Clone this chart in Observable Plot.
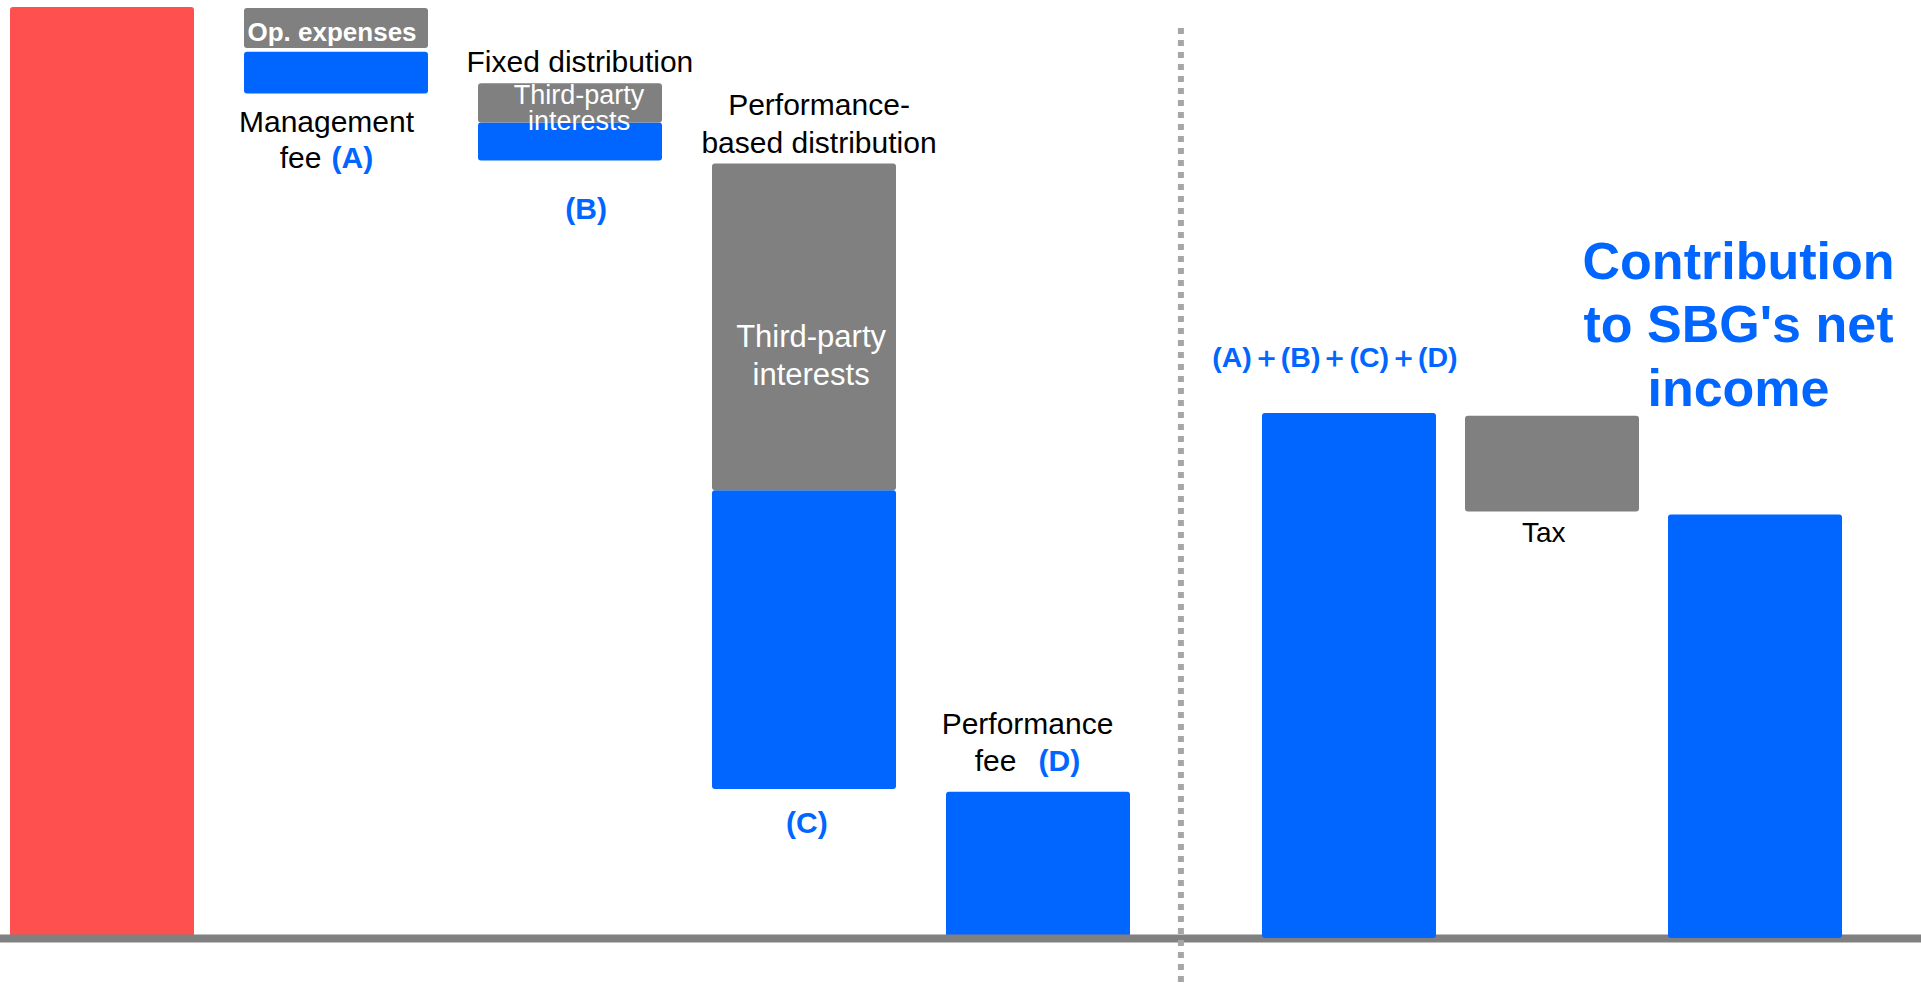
<!DOCTYPE html>
<html>
<head>
<meta charset="utf-8">
<script src="https://cdn.jsdelivr.net/npm/d3@7"></script>
<script src="https://cdn.jsdelivr.net/npm/@observablehq/plot@0.6"></script>
<style>
  html, body { margin: 0; padding: 0; background: #fff; overflow: hidden; }
  #chart { position: relative; width: 1921px; height: 983px; }
  #chart svg { position: absolute; top: 0; max-width: none; }
</style>
</head>
<body>
<div id="chart"></div>
<script>
// ---------------- data (red bar = 100) ----------------
const leftCategories = ["Start", "Management fee", "Fixed distribution", "Performance-based distribution", "Performance fee"];
const rightCategories = ["(A)+(B)+(C)+(D)", "Tax", "Contribution to SBG's net income"];

// bar segments: category, bottom value, top value, kind
const segCategory = [
  "Start",
  "Management fee", "Management fee",
  "Fixed distribution", "Fixed distribution",
  "Performance-based distribution", "Performance-based distribution",
  "Performance fee",
  "(A)+(B)+(C)+(D)", "Tax", "Contribution to SBG's net income"
];
const segBottom = [0, 90.7, 95.6, 83.5, 87.6, 16.0, 48.1, 0, 0, 45.8, 0];
const segTop    = [100, 95.2, 99.9, 87.6, 91.8, 48.1, 83.2, 15.7, 56.4, 56.1, 45.5];
const segKind   = ["start", "share", "cost", "share", "cost", "share", "cost", "share", "share", "cost", "share"];

const kinds = ["start", "share", "cost"];
const kindColors = ["#FF5050", "#0066FF", "#808080"];

// ---------------- build ----------------
const rows = segCategory.map((c, i) => ({category: c, y1: segBottom[i], y2: segTop[i], kind: segKind[i]}));
const leftRows = rows.filter(d => leftCategories.includes(d.category));
const rightRows = rows.filter(d => rightCategories.includes(d.category));

const FONT = "Liberation Sans, Arial, Helvetica, sans-serif";
const BLUE = "#0066FF";
const DIVIDER = "#a6a6a6";
const yScale = {domain: [0, 100], range: [938, 7], axis: null};
const colorScale = {domain: kinds, range: kindColors};

function label(cat, y, text, o) {
  return Plot.text([{cat, y}], {x: "cat", y: "y", text: () => text, fontFamily: FONT, lineAnchor: "middle", ...o});
}

const left = Plot.plot({
  width: 1921, height: 983,
  marginTop: 0, marginRight: 0, marginBottom: 0, marginLeft: 0,
  style: {background: "transparent", fontFamily: FONT, overflow: "visible"},
  x: {type: "band", domain: leftCategories, range: [-42.6, 1182.8], padding: 0.2145, axis: null},
  y: yScale,
  color: colorScale,
  marks: [
    Plot.barY(leftRows, {x: "category", y1: "y1", y2: "y2", fill: "kind", rx: 3}),
    Plot.ruleY([0], {stroke: "#808080", strokeWidth: 8}),
    // Management fee
    label("Management fee", segTop[2], "Op. expenses", {fill: "#fff", fontWeight: "bold", fontSize: 26, textAnchor: "start", dx: -89, dy: 24.7}),
    label("Management fee", segBottom[1], "Management", {fill: "#000", fontSize: 30, dx: -10, dy: 28.5}),
    label("Management fee", segBottom[1], "fee", {fill: "#000", fontSize: 30, textAnchor: "end", dx: -15, dy: 64.8}),
    label("Management fee", segBottom[1], "(A)", {fill: BLUE, fontWeight: "bold", fontSize: 30, textAnchor: "start", dx: -5, dy: 64.8}),
    // Fixed distribution
    label("Fixed distribution", segTop[4], "Fixed distribution", {fill: "#000", fontSize: 30, dx: 9.4, dy: -21.9}),
    label("Fixed distribution", segTop[4], "Third-party\ninterests", {fill: "#fff", fontSize: 27, lineHeight: 0.96, dx: 8.6, dy: 25.2}),
    label("Fixed distribution", segBottom[3], "(B)", {fill: BLUE, fontWeight: "bold", fontSize: 30, dx: 15.7, dy: 47.8}),
    // Performance-based distribution
    label("Performance-based distribution", segTop[6], "Performance-\nbased distribution", {fill: "#000", fontSize: 30, lineHeight: 1.267, dx: 14.5, dy: -42}),
    label("Performance-based distribution", segTop[6], "Third-party\ninterests", {fill: "#fff", fontSize: 31, lineHeight: 1.226, dx: 6.6, dy: 189.7}),
    label("Performance-based distribution", segBottom[5], "(C)", {fill: BLUE, fontWeight: "bold", fontSize: 30, dx: 2.4, dy: 34}),
    // Performance fee
    label("Performance fee", segTop[7], "Performance", {fill: "#000", fontSize: 30, dx: -11, dy: -68.4}),
    label("Performance fee", segTop[7], "fee", {fill: "#000", fontSize: 30, textAnchor: "end", dx: -22, dy: -31.4}),
    label("Performance fee", segTop[7], "(D)", {fill: BLUE, fontWeight: "bold", fontSize: 30, textAnchor: "start", dx: 0, dy: -31.4})
  ]
});

const right = Plot.plot({
  width: 753, height: 983,
  marginTop: 28, marginRight: 0, marginBottom: 0, marginLeft: 12,
  style: {background: "transparent", fontFamily: FONT, overflow: "visible"},
  x: {type: "band", domain: rightCategories, range: [64.5, 703.2], padding: 0.1424, axis: null},
  y: yScale,
  color: colorScale,
  marks: [
    // dotted divider between the two sections (left of the first right-hand bar)
    Plot.ruleX([rightCategories[0]], {x: d => d, dx: -168.6, stroke: DIVIDER, strokeWidth: 6, strokeDasharray: "6,6"}),
    Plot.barY(rightRows, {x: "category", y1: "y1", y2: "y2", fill: "kind", rx: 3}),
    label("(A)+(B)+(C)+(D)", segTop[8], "(A)\uFF0B(B)\uFF0B(C)\uFF0B(D)", {fill: BLUE, fontWeight: "bold", fontSize: 28.5, dx: -14.6, dy: -56}),
    label("Tax", segBottom[9], "Tax", {fill: "#000", fontSize: 28, dx: -8.8, dy: 21.4}),
    label("Contribution to SBG's net income", segTop[10], "Contribution\nto SBG's net\nincome", {fill: BLUE, fontWeight: "bold", fontSize: 52, lineHeight: 1.221, dx: -17, dy: -192.8})
  ]
});
right.style.left = "1168px";
left.style.left = "0px";

const chart = document.getElementById("chart");
chart.appendChild(left);
chart.appendChild(right);
</script>
</body>
</html>
